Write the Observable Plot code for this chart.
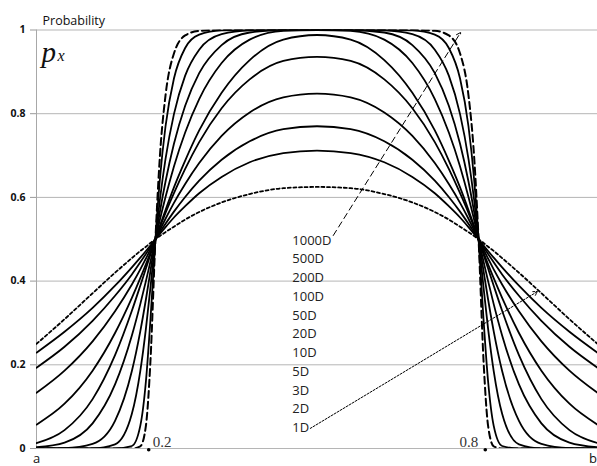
<!DOCTYPE html>
<html><head><meta charset="utf-8">
<script src="https://cdn.jsdelivr.net/npm/d3@7"></script>
<script src="https://cdn.jsdelivr.net/npm/@observablehq/plot@0.6"></script>
<style>body{margin:0;background:#fff}#chart{width:597px;height:466px}</style>
</head><body><div id="chart"></div>
<script>
// Shared x positions (fraction of the interval a..b)
const xs = [0,0.05,0.1,0.14,0.17,0.185,0.195,0.203,0.212,0.22,0.23,0.245,0.265,0.29,0.33,0.38,0.44,0.5,
            0.56,0.62,0.67,0.71,0.735,0.755,0.77,0.78,0.788,0.797,0.805,0.815,0.83,0.86,0.9,0.95,1];

const p1D   = [0.25,0.309,0.371,0.42,0.455,0.472,0.482,0.491,0.5,0.508,0.517,0.530,0.547,0.565,0.588,0.608,0.622,0.625,
               0.622,0.608,0.588,0.565,0.547,0.530,0.517,0.508,0.5,0.491,0.482,0.472,0.455,0.42,0.371,0.309,0.25];
const p2D   = [0.229,0.279,0.336,0.389,0.433,0.456,0.472,0.485,0.5,0.513,0.529,0.552,0.579,0.610,0.649,0.684,0.706,0.712,
               0.706,0.684,0.649,0.610,0.579,0.552,0.529,0.513,0.5,0.485,0.472,0.456,0.433,0.389,0.336,0.279,0.229];
const p3D   = [0.193,0.243,0.305,0.365,0.416,0.445,0.465,0.481,0.5,0.517,0.537,0.566,0.601,0.640,0.690,0.734,0.763,0.770,
               0.763,0.734,0.690,0.640,0.601,0.566,0.537,0.517,0.5,0.481,0.465,0.445,0.416,0.365,0.305,0.243,0.193];
const p5D   = [0.133,0.186,0.256,0.328,0.392,0.428,0.454,0.475,0.5,0.522,0.549,0.587,0.632,0.682,0.747,0.803,0.839,0.848,
               0.839,0.803,0.747,0.682,0.632,0.587,0.549,0.522,0.5,0.475,0.454,0.428,0.392,0.328,0.256,0.186,0.133];
const p10D  = [0.057,0.107,0.186,0.276,0.360,0.407,0.440,0.468,0.5,0.529,0.563,0.610,0.668,0.732,0.813,0.882,0.926,0.936,
               0.926,0.882,0.813,0.732,0.668,0.610,0.563,0.529,0.5,0.468,0.440,0.407,0.360,0.276,0.186,0.107,0.057];
const p20D  = [0.013,0.044,0.118,0.223,0.329,0.389,0.430,0.463,0.5,0.532,0.570,0.624,0.688,0.760,0.850,0.928,0.977,0.988,
               0.977,0.928,0.850,0.760,0.688,0.624,0.570,0.532,0.5,0.463,0.430,0.389,0.329,0.223,0.118,0.044,0.013];
const p50D  = [0.003,0.014,0.060,0.153,0.270,0.345,0.400,0.446,0.5,0.547,0.601,0.674,0.755,0.835,0.921,0.977,0.998,1,
               0.998,0.977,0.921,0.835,0.755,0.674,0.601,0.547,0.5,0.446,0.400,0.345,0.270,0.153,0.060,0.014,0.003];
const p100D = [0,0.001,0.011,0.066,0.185,0.280,0.356,0.423,0.5,0.566,0.638,0.728,0.819,0.897,0.964,0.994,1,1,
               1,0.994,0.964,0.897,0.819,0.728,0.638,0.566,0.5,0.423,0.356,0.280,0.185,0.066,0.011,0.001,0];
const p200D = [0,0,0,0.010,0.083,0.185,0.286,0.383,0.5,0.595,0.692,0.799,0.891,0.953,0.990,0.999,1,1,
               1,0.999,0.990,0.953,0.891,0.799,0.692,0.595,0.5,0.383,0.286,0.185,0.083,0.010,0,0,0];
const p500D = [0,0,0,0,0.006,0.054,0.160,0.305,0.5,0.644,0.770,0.884,0.957,0.989,0.999,1,1,1,
               1,1,0.999,0.989,0.957,0.884,0.770,0.644,0.5,0.305,0.160,0.054,0.006,0,0,0,0];
const p1000D= [0,0,0,0,0,0.005,0.054,0.206,0.5,0.699,0.844,0.944,0.987,0.998,1,1,1,1,
               1,1,1,0.998,0.987,0.944,0.844,0.699,0.5,0.206,0.054,0.005,0,0,0,0,0];

const seriesNames  = ["1D","2D","3D","5D","10D","20D","50D","100D","200D","500D","1000D"];
const seriesValues = [p1D,p2D,p3D,p5D,p10D,p20D,p50D,p100D,p200D,p500D,p1000D];
const legendOrder  = ["1000D","500D","200D","100D","50D","20D","10D","5D","3D","2D","1D"];
const yTicks = [0,0.2,0.4,0.6,0.8,1];
const xMarks = [0.2,0.8];
const xMarkLabels = ["0.2","0.8"];
const endLabels = ["a","b"];

const rows = seriesNames.flatMap((s,i)=>xs.map((x,j)=>({series:s, x, p:seriesValues[i][j]})));
const solid = rows.filter(d=>d.series!=="1D" && d.series!=="1000D");
const dotted = rows.filter(d=>d.series==="1D");
const dashed = rows.filter(d=>d.series==="1000D");

// annotation placement (data coordinates)
const legendX = 0.456, legendTop = 0.497, legendStep = 0.0448;
const legendRows = legendOrder.map((t,i)=>({t, x:legendX, y:legendTop - i*legendStep}));
const arrowHigh = [{x1:0.529,y1:0.509,x2:0.756,y2:0.994}];
const arrowLow  = [{x1:0.488,y1:0.048,x2:0.893,y2:0.375}];

const chart = Plot.plot({
  width:597, height:466,
  marginLeft:36, marginRight:0, marginTop:29.5, marginBottom:18,
  x:{domain:[0,1], axis:null},
  y:{domain:[0,1], axis:null},
  style:{fontFamily:"'Open Sans', sans-serif", background:"#fff", overflow:"visible"},
  marks:[
    Plot.ruleY(yTicks, {stroke:"#b5b5b5", strokeWidth:1}),
    Plot.ruleX([0], {stroke:"#a8a8a8", strokeWidth:1}),
    Plot.axisY({ticks:yTicks, tickSize:6, tickPadding:5, tickFormat:d=>String(d),
      fontWeight:"bold", fontSize:10.5, color:"#111", stroke:"#999"}),
    Plot.line(solid, {x:"x", y:"p", z:"series", curve:"monotone-x", stroke:"#000", strokeWidth:1.8, clip:true}),
    Plot.line(dotted, {x:"x", y:"p", curve:"monotone-x", stroke:"#000", strokeWidth:1.8, strokeDasharray:"3,2.6", clip:true}),
    Plot.line(dashed, {x:"x", y:"p", curve:"monotone-x", stroke:"#000", strokeWidth:2, strokeDasharray:"7,4", clip:true}),
    Plot.text(legendRows, {x:"x", y:"y", text:"t", textAnchor:"start", fontSize:13, fill:"#222"}),
    Plot.arrow(arrowHigh, {x1:"x1", y1:"y1", x2:"x2", y2:"y2", stroke:"#000", strokeWidth:1, strokeDasharray:"6,4", headLength:7}),
    Plot.arrow(arrowLow, {x1:"x1", y1:"y1", x2:"x2", y2:"y2", stroke:"#000", strokeWidth:1, strokeDasharray:"2,1.5", headLength:7}),
    Plot.dot(xMarks, {x:d=>d, y:0, r:1.8, fill:"#000", dy:1.3}),
    Plot.text([0], {x:()=>xMarks[0], y:0, text:()=>xMarkLabels[0], textAnchor:"start", dx:4, dy:-6.5,
      fontFamily:"'Liberation Serif', serif", fontSize:15, fill:"#333"}),
    Plot.text([1], {x:()=>xMarks[1], y:0, text:()=>xMarkLabels[1], textAnchor:"end", dx:-7, dy:-6.5,
      fontFamily:"'Liberation Serif', serif", fontSize:15, fill:"#333"}),
    Plot.text([endLabels[0]], {x:0, y:0, text:d=>d, dy:10.5, fontSize:13, fill:"#111"}),
    Plot.text([endLabels[1]], {x:1, y:0, text:d=>d, textAnchor:"end", dx:-0.5, dy:10.5, fontSize:13, fill:"#111"}),
    Plot.text(["Probability"], {frameAnchor:"top-left", textAnchor:"start", dx:6, dy:-13.5, fontSize:12.5, fill:"#111"}),
    Plot.text(["p"], {frameAnchor:"top-left", textAnchor:"start", dx:5, dy:11, fontSize:29,
      fontFamily:"'Liberation Serif', serif", fontStyle:"italic", fill:"#111"}),
    Plot.text(["x"], {frameAnchor:"top-left", textAnchor:"start", dx:21, dy:20, fontSize:16,
      fontFamily:"'Liberation Serif', serif", fontStyle:"italic", fill:"#111"})
  ]
});
document.getElementById("chart").append(chart);
</script>
</body></html>
